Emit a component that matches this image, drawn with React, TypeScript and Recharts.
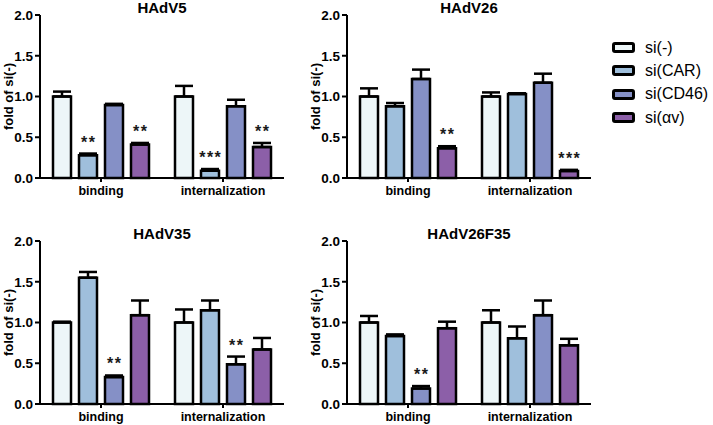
import React from 'react';
import { BarChart, Bar, XAxis, YAxis, ErrorBar, LabelList, Label } from 'recharts';

const groups = ['binding', 'internalization'];
const seriesNames = ['si(-)', 'si(CAR)', 'si(CD46)', 'si(αv)'];
const seriesColors = ['#edf6f8', '#9fbfdc', '#8590c6', '#8c5fa8'];
const yTicks = [0, 0.5, 1, 1.5, 2];

// HAdV5
const hadv5Binding = [1.0, 0.28, 0.895, 0.41];
const hadv5BindingErr = [0.06, 0.02, 0.015, 0.02];
const hadv5Internal = [1.0, 0.09, 0.88, 0.38];
const hadv5InternalErr = [0.13, 0.02, 0.08, 0.05];
const hadv5Stars = [['', '**', '', '**'], ['', '***', '', '**']];

// HAdV26
const hadv26Binding = [1.0, 0.88, 1.215, 0.365];
const hadv26BindingErr = [0.1, 0.04, 0.115, 0.025];
const hadv26Internal = [1.0, 1.03, 1.17, 0.086];
const hadv26InternalErr = [0.05, 0.01, 0.11, 0.014];
const hadv26Stars = [['', '', '', '**'], ['', '', '', '***']];

// HAdV35
const hadv35Binding = [1.0, 1.55, 0.33, 1.09];
const hadv35BindingErr = [0.01, 0.07, 0.02, 0.18];
const hadv35Internal = [1.0, 1.15, 0.487, 0.67];
const hadv35InternalErr = [0.16, 0.12, 0.095, 0.14];
const hadv35Stars = [['', '', '**', ''], ['', '', '**', '']];

// HAdV26F35
const hadv26f35Binding = [1.0, 0.834, 0.19, 0.93];
const hadv26f35BindingErr = [0.08, 0.02, 0.03, 0.08];
const hadv26f35Internal = [1.0, 0.806, 1.09, 0.72];
const hadv26f35InternalErr = [0.15, 0.145, 0.18, 0.08];
const hadv26f35Stars = [['', '', '**', ''], ['', '', '', '']];

const FONT = "'Liberation Sans', Arial, Helvetica, sans-serif";

function buildRows(means: number[][], errs: number[][], stars: string[][]) {
  return groups.map((group, gi) => {
    const row: any = { group };
    seriesNames.forEach((_, si) => {
      row[`s${si}`] = means[gi][si];
      row[`e${si}`] = [0, errs[gi][si]];
      row[`t${si}`] = stars[gi][si];
    });
    return row;
  });
}

// significance stars sit a fixed distance above the error bar cap
const makeStar = (rows: any[], si: number) => (props: any) => {
  const { x, y, width, height, index, value } = props;
  if (!value) return null;
  const mean = rows[index][`s${si}`];
  const err = rows[index][`e${si}`][1];
  const errTop = Number(y) - err * (Number(height) / mean);
  return (
    <text
      x={Number(x) + Number(width) / 2 + 0.75}
      y={errTop - 6}
      textAnchor="middle"
      fontSize={16}
      fontWeight="bold"
      letterSpacing={1.5}
      fill="#1a1a1a"
    >
      {value}
    </text>
  );
};

const YLabel = (props: any) => {
  const { viewBox } = props;
  const cx = viewBox.x + 8;
  const cy = viewBox.y + viewBox.height / 2;
  return (
    <text
      x={cx}
      y={cy}
      transform={`rotate(-90, ${cx}, ${cy})`}
      textAnchor="middle"
      dominantBaseline="central"
      fontSize={13}
      fontWeight="bold"
      fill="#000"
    >
      fold of si(-)
    </text>
  );
};

interface PanelProps {
  title: string;
  left: number;
  top: number;
  means: number[][];
  errs: number[][];
  stars: string[][];
}

function Panel({ title, left, top, means, errs, stars }: PanelProps) {
  const rows = buildRows(means, errs, stars);
  return (
    <div style={{ position: 'absolute', left, top, width: 290, height: 200 }}>
      <div
        style={{
          position: 'absolute',
          left: 40,
          width: 244,
          top: 0,
          textAlign: 'center',
          fontSize: 15,
          fontWeight: 'bold',
          lineHeight: '15px',
        }}
      >
        {title}
      </div>
      <BarChart
        width={290}
        height={200}
        data={rows}
        margin={{ top: 15, right: 6, bottom: 2, left: 0 }}
        barSize={18}
        barGap={8}
      >
        <XAxis
          dataKey="group"
          height={20}
          axisLine={{ stroke: '#000', strokeWidth: 2 }}
          tickLine={{ stroke: '#000', strokeWidth: 2 }}
          tickSize={4}
          tickMargin={4}
          tick={{ fill: '#000', fontSize: 12.5, fontWeight: 'bold' }}
        />
        <YAxis
          width={40}
          domain={[0, 2]}
          ticks={yTicks}
          interval={0}
          axisLine={{ stroke: '#000', strokeWidth: 2 }}
          tickLine={{ stroke: '#000', strokeWidth: 2 }}
          tickSize={5}
          tickMargin={2}
          tick={{ fill: '#000', fontSize: 13.5, fontWeight: 'bold' }}
          tickFormatter={(v: number) => v.toFixed(1)}
        >
          <Label content={YLabel} />
        </YAxis>
        {seriesNames.map((name, si) => (
          <Bar
            key={name}
            dataKey={`s${si}`}
            name={name}
            fill={seriesColors[si]}
            stroke="#000"
            strokeWidth={2.5}
            isAnimationActive={false}
          >
            <ErrorBar dataKey={`e${si}`} width={9} stroke="#000" strokeWidth={2.5} direction="y" />
            <LabelList dataKey={`t${si}`} content={makeStar(rows, si)} />
          </Bar>
        ))}
      </BarChart>
    </div>
  );
}

function LegendBox() {
  return (
    <div style={{ position: 'absolute', left: 612, top: 36 }}>
      {seriesNames.map((name, i) => (
        <div key={name} style={{ display: 'flex', alignItems: 'center', height: 23.3 }}>
          <div
            style={{
              width: 17,
              height: 5,
              border: '3px solid #000',
              borderRadius: 3,
              background: seriesColors[i],
            }}
          />
          <span style={{ marginLeft: 10, fontSize: 16, color: '#000' }}>{name}</span>
        </div>
      ))}
    </div>
  );
}

export default function App() {
  return (
    <div
      style={{
        position: 'absolute',
        left: 0,
        top: 0,
        width: 713,
        height: 425,
        background: '#fff',
        fontFamily: FONT,
        overflow: 'hidden',
      }}
    >
      <Panel
        title="HAdV5"
        left={0}
        top={0}
        means={[hadv5Binding, hadv5Internal]}
        errs={[hadv5BindingErr, hadv5InternalErr]}
        stars={hadv5Stars}
      />
      <Panel
        title="HAdV26"
        left={307}
        top={0}
        means={[hadv26Binding, hadv26Internal]}
        errs={[hadv26BindingErr, hadv26InternalErr]}
        stars={hadv26Stars}
      />
      <Panel
        title="HAdV35"
        left={0}
        top={226}
        means={[hadv35Binding, hadv35Internal]}
        errs={[hadv35BindingErr, hadv35InternalErr]}
        stars={hadv35Stars}
      />
      <Panel
        title="HAdV26F35"
        left={307}
        top={226}
        means={[hadv26f35Binding, hadv26f35Internal]}
        errs={[hadv26f35BindingErr, hadv26f35InternalErr]}
        stars={hadv26f35Stars}
      />
      <LegendBox />
    </div>
  );
}
